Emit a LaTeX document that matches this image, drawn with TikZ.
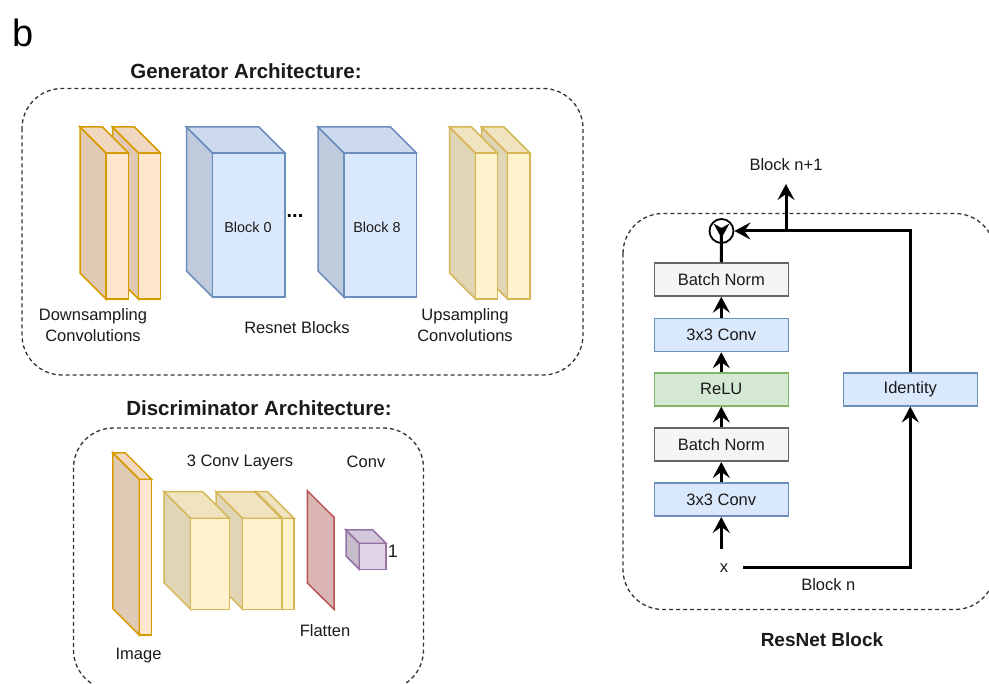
\documentclass[tikz,border=0pt]{standalone}
\usepackage{fontspec}
\setmainfont{Liberation Sans}
\usetikzlibrary{arrows.meta}

% palette
\definecolor{orFill}{HTML}{FFE6CC}\definecolor{orLine}{HTML}{D79B00}
\definecolor{blFill}{HTML}{DAE8FC}\definecolor{blLine}{HTML}{6C8EBF}
\definecolor{yeFill}{HTML}{FFF2CC}\definecolor{yeLine}{HTML}{D6B656}
\definecolor{rdFill}{HTML}{F8CECC}\definecolor{rdLine}{HTML}{B85450}
\definecolor{puFill}{HTML}{E1D5E7}\definecolor{puLine}{HTML}{9673A6}
\definecolor{gnFill}{HTML}{D5E8D4}\definecolor{gnLine}{HTML}{82B366}
\definecolor{gyFill}{HTML}{F5F5F5}\definecolor{gyLine}{HTML}{666666}
\definecolor{frameLine}{HTML}{333333}
\definecolor{ink}{HTML}{1A1A1A}

% 3-D block: front face top-left (#1,#2), width #3, height #4, depth #5,
% front fill #6, edge colour #7
\newcommand{\layercube}[7]{%
  \filldraw[fill=#6!88!black, draw=#7, cubeline]
    (#1,#2) -- ({#1-#5},{#2-#5}) -- ({#1-#5},{#2+#4-#5}) -- (#1,{#2+#4}) -- cycle;
  \filldraw[fill=#6!94!black, draw=#7, cubeline]
    (#1,#2) -- ({#1-#5},{#2-#5}) -- ({#1+#3-#5},{#2-#5}) -- ({#1+#3},#2) -- cycle;
  \filldraw[fill=#6, draw=#7, cubeline] (#1,#2) rectangle ({#1+#3},{#2+#4});
}

\tikzset{
  cubeline/.style={line width=1.5pt, line join=miter},
  frame/.style={draw=frameLine, line width=1.3pt, dash pattern=on 4pt off 3pt, rounded corners=40pt},
  title/.style={font=\fontsize{20.5}{24}\selectfont\bfseries, text=ink},
  lbl/.style={font=\fontsize{16.5}{21}\selectfont, text=ink, align=center},
  small/.style={font=\fontsize{14.4}{17}\selectfont, text=ink},
  opbox/.style={draw, line width=1.5pt, minimum width=134pt, minimum height=33pt,
    inner sep=0pt, font=\fontsize{16.5}{20}\selectfont, text=ink},
  arr/.style={line width=3pt, draw=black, -{Stealth[length=16pt,width=17pt,inset=6pt]}},
  wire/.style={line width=3pt, draw=black},
}

\begin{document}
\begin{tikzpicture}[x=1pt, y=-1pt]
\useasboundingbox (0,0) rectangle (989,684);
\clip (0,0) rectangle (989,684);
\fill[white] (0,0) rectangle (989,684);

\node[font=\fontsize{38}{40}\selectfont, text=black] (panel) at (23,33) {b};

% ---------------- generator ----------------
\node[title] (gentitle) at (246,71) {Generator Architecture:};
\draw[frame] (22,88.5) rectangle (583,375);

% stacked layers, back to front (the left one sits on top)
\layercube{507.5}{153}{22.5}{146}{26}{yeFill}{yeLine}
\layercube{475.5}{153}{22}{146}{26}{yeFill}{yeLine}
\layercube{344}{153}{72.5}{144}{26}{blFill}{blLine}
\layercube{212.5}{153}{72.5}{144}{26}{blFill}{blLine}
\layercube{138.5}{153}{22}{146}{26}{orFill}{orLine}
\layercube{106}{153}{22.5}{146}{26}{orFill}{orLine}

\node[small] (blk0) at (248,227) {Block 0};
\node[small] (blk8) at (377,227) {Block 8};
\node[font=\fontsize{20}{22}\selectfont\bfseries, inner sep=0pt] (dots) at (295,216.5) {...};

\node[lbl] (downlbl) at (93,325) {Downsampling\\Convolutions};
\node[lbl] (reslbl) at (297,328) {Resnet Blocks};
\node[lbl] (uplbl) at (465,325) {Upsampling\\Convolutions};

% ---------------- discriminator ----------------
\node[title] (distitle) at (259,408) {Discriminator Architecture:};
\draw[frame] (73.5,428) rectangle (423.5,690);

\layercube{139.3}{479.3}{12.4}{155.7}{26.5}{orFill}{orLine}
\layercube{282.7}{518.3}{11.3}{91}{26.7}{yeFill}{yeLine}
\layercube{242.7}{518.3}{38.6}{91}{26.5}{yeFill}{yeLine}
\layercube{190.7}{518.3}{38.6}{91}{26.7}{yeFill}{yeLine}
% flattened plate
\filldraw[fill=rdFill!88!black, draw=rdLine, cubeline]
  (307.3,490.7) -- (334,517.3) -- (334,609.3) -- (307.3,583) -- cycle;
\layercube{359.3}{543.3}{26.7}{26}{13.3}{puFill}{puLine}

\node[lbl] (convlayers) at (240,462) {3 Conv Layers};
\node[lbl] (convlbl) at (366,462) {Conv};
\node[font=\fontsize{18}{20}\selectfont, text=ink] (onelbl) at (393,551) {1};
\node[lbl] (flatlbl) at (325,631) {Flatten};
\node[lbl] (imglbl) at (138.5,656) {Image};

% ---------------- ResNet block ----------------
\draw[frame] (623,213.5) rectangle (995,609.5);
\node[title, font=\fontsize{19}{22}\selectfont\bfseries] (restitle) at (822,640) {ResNet Block};

\node[opbox, draw=gyLine, fill=gyFill] (bnA) at (721.3,279.5) {Batch Norm};
\node[opbox, draw=blLine, fill=blFill] (convA) at (721.3,335) {3x3 Conv};
\node[opbox, draw=gnLine, fill=gnFill] (relu) at (721.3,389.3) {ReLU};
\node[opbox, draw=gyLine, fill=gyFill] (bnB) at (721.3,444.7) {Batch Norm};
\node[opbox, draw=blLine, fill=blFill] (convB) at (721.3,499.7) {3x3 Conv};
\node[opbox, draw=blLine, fill=blFill] (ident) at (910.3,389.3) {Identity};

\node[circle, draw=black, line width=1.8pt, minimum size=24pt, inner sep=0pt, fill=white]
  (sum) at (721.5,231) {};
\node[lbl] (nextlbl) at (786,165) {Block n+1};
\node[lbl, minimum size=38pt, inner sep=0pt] (xin) at (724,568) {x};
\node[lbl] (curlbl) at (828.3,585) {Block n};

\coordinate (split) at (786,231);
\coordinate (outtip) at (786,184);

% main path
\draw[arr] (xin.north -| convB.south) -- (convB.south);
\draw[arr] (convB.north) -- (bnB.south);
\draw[arr] (bnB.north) -- (relu.south);
\draw[arr] (relu.north) -- (convA.south);
\draw[arr] (convA.north) -- (bnA.south);
\draw[wire] (bnA.north) -- (sum.center);
\fill[black] (721.5,238) -- (713.5,223.5) -- (721.5,228) -- (729.5,223.5) -- cycle;

% skip path
\draw[arr] (xin.east) -| (ident.south);
\draw[arr] (ident.north) |- (sum.east);
\draw[arr] (split) -- (outtip);
\end{tikzpicture}
\end{document}
